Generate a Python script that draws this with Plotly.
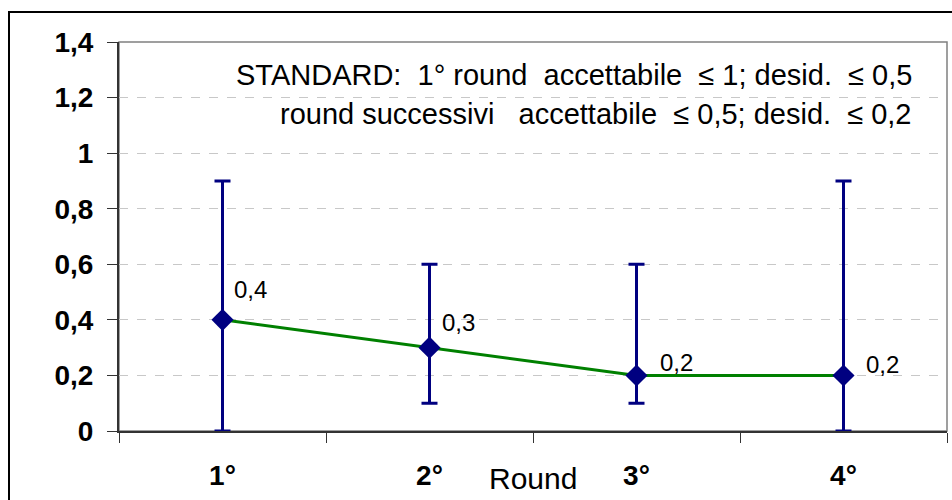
import plotly.graph_objects as go

rounds = ["1°", "2°", "3°", "4°"]
values = [0.4, 0.3, 0.2, 0.2]
upper = [0.9, 0.6, 0.6, 0.9]
lower = [0.0, 0.1, 0.1, 0.0]
value_labels = ["0,4", "0,3", "0,2", "0,2"]
y_ticks = [0, 0.2, 0.4, 0.6, 0.8, 1.0, 1.2, 1.4]
note_line1 = "STANDARD:\u00a0 1° round\u00a0 accettabile\u00a0 ≤ 1; desid.\u00a0 ≤ 0,5"
note_line2 = "round successivi\u00a0\u00a0 accettabile\u00a0 ≤ 0,5; desid.\u00a0 ≤ 0,2"
x_title = "Round"

# label offsets (px) for data labels
label_dx = [9, 10, 21, 20]
label_dy = [30, 25, 13, 11]

err_plus = [u - v for u, v in zip(upper, values)]
err_minus = [v - l for v, l in zip(values, lower)]

NAVY = "#000080"
GREEN = "#008000"

fig = go.Figure()
fig.add_trace(go.Scatter(
    x=rounds, y=values, mode="lines+markers",
    line=dict(color=GREEN, width=3),
    marker=dict(symbol="diamond", size=17, color=NAVY),
    error_y=dict(type="data", symmetric=False, array=err_plus, arrayminus=err_minus,
                 color=NAVY, thickness=3, width=8),
    showlegend=False, cliponaxis=False,
))

W, H = 952, 500
L, R, T, B = 119, 5, 42, 69
pw, ph = W - L - R, H - T - B

def px_x(px):
    return (px - L) / pw

def px_y(py):
    return (H - B - py) / ph

annotations = []
for i, (r, v, t) in enumerate(zip(rounds, values, value_labels)):
    annotations.append(dict(x=r, y=v, xref="x", yref="y", text=t, showarrow=False,
                            xanchor="left", yanchor="middle",
                            xshift=label_dx[i], yshift=label_dy[i],
                            font=dict(family="Liberation Sans, Arial", size=24, color="black")))

annotations.append(dict(x=px_x(914), y=px_y(75), xref="paper", yref="paper", text=note_line1,
                        showarrow=False, xanchor="right", yanchor="middle",
                        font=dict(family="Liberation Sans, Arial", size=29, color="black")))
annotations.append(dict(x=px_x(914), y=px_y(114), xref="paper", yref="paper", text=note_line2,
                        showarrow=False, xanchor="right", yanchor="middle",
                        font=dict(family="Liberation Sans, Arial", size=29, color="black")))
annotations.append(dict(x=0.5, y=px_y(479), xref="paper", yref="paper", text=x_title,
                        showarrow=False, xanchor="center", yanchor="middle",
                        font=dict(family="Liberation Sans, Arial", size=30, color="black")))

shapes = [
    # plot area border (top/right, gray)
    dict(type="rect", xref="paper", yref="paper", x0=0, x1=1, y0=0, y1=1,
         line=dict(color="#808080", width=1.5), layer="below"),
    # outer chart border
    dict(type="rect", xref="paper", yref="paper", x0=px_x(9), x1=px_x(1000),
         y0=px_y(560), y1=px_y(12), line=dict(color="black", width=2), layer="above"),
]

fig.update_layout(
    width=W, height=H,
    margin=dict(l=L, r=R, t=T, b=B, pad=0),
    paper_bgcolor="white", plot_bgcolor="white",
    separators=",.",
    annotations=annotations, shapes=shapes,
    font=dict(family="Liberation Sans, Arial", color="black"),
)
fig.update_xaxes(
    type="category", range=[-0.5, 3.5], tickson="boundaries",
    showgrid=False, showline=True, linecolor="#333333", linewidth=2,
    ticks="outside", ticklen=10, tickcolor="#333333", tickwidth=1,
    tickfont=dict(family="Liberation Sans, Arial", size=28, color="black", weight="bold"),
    ticklabelstandoff=18, zeroline=False,
)
fig.update_yaxes(
    range=[0, 1.4], tickvals=y_ticks,
    showgrid=True, gridcolor="#c8c8c8", griddash="dash", gridwidth=1,
    showline=True, linecolor="#333333", linewidth=2,
    ticks="outside", ticklen=10, tickcolor="#333333", tickwidth=1,
    tickfont=dict(family="Liberation Sans, Arial", size=28, color="black", weight="bold"),
    ticklabelstandoff=8, zeroline=False,
)

fig.write_html("out.html")
